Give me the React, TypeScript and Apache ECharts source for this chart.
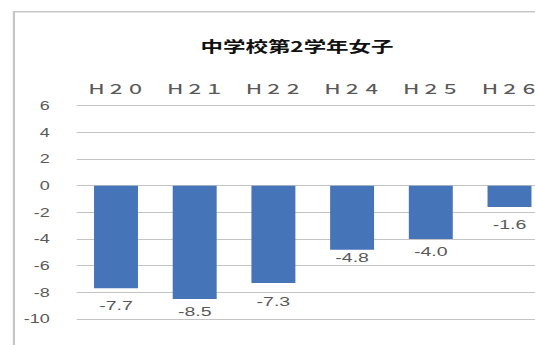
import React, { useEffect, useRef } from "react";
import * as echarts from "echarts";

const chartTitle = "中学校第2学年女子";
const categories = ["Ｈ２０", "Ｈ２１", "Ｈ２２", "Ｈ２４", "Ｈ２５", "Ｈ２６"];
const values = [-7.7, -8.5, -7.3, -4.8, -4.0, -1.6];
const yMin = -10;
const yMax = 6;
const yInterval = 2;
const labelGaps = [11, 6, 12, 1, 6, 11];

const STRETCH = 1.5;
const W = 390;
const H = 345;

export default function App() {
  const ref = useRef<HTMLDivElement>(null);
  useEffect(() => {
    if (!ref.current) return;
    const chart = echarts.init(ref.current, null, { renderer: "svg", width: W, height: H });
    chart.setOption({
      animation: false,
      backgroundColor: "#ffffff",
      grid: { left: 51.1, top: 105.7, width: 314.8, height: 213.3 },
      graphic: [
        {
          type: "polyline",
          shape: { points: [[9.3, 400], [9.3, 11.7], [400, 11.7]] },
          style: { fill: "none", stroke: "#c6c6c6", lineWidth: 1.5 },
          silent: true,
        },
        {
          type: "text",
          x: 198,
          y: 46,
          style: {
            text: chartTitle,
            fill: "#111111",
            font: "bold 15px 'Noto Sans CJK JP'",
            textAlign: "center",
            textVerticalAlign: "middle",
          },
        },
      ],
      xAxis: {
        type: "category",
        position: "top",
        data: categories,
        axisLine: { show: false },
        axisTick: { show: false },
        axisLabel: {
          margin: 11,
          color: "#595959",
          fontSize: 13,
          fontWeight: 500,
          fontFamily: "Noto Sans CJK JP",
        },
      },
      yAxis: {
        type: "value",
        min: yMin,
        max: yMax,
        interval: yInterval,
        axisLine: { show: false },
        axisTick: { show: false },
        splitLine: { lineStyle: { color: "#c4c4c4", width: 1 } },
        axisLabel: {
          margin: 18,
          color: "#595959",
          fontSize: 12,
          fontFamily: "Liberation Sans",
        },
      },
      series: [
        {
          type: "bar",
          barWidth: 29.3,
          data: values.map((v, i) => ({
            value: v,
            label: { distance: labelGaps[i] },
          })),
          itemStyle: { color: "#4574b9" },
          label: {
            show: true,
            position: "bottom",
            color: "#595959",
            fontSize: 13,
            fontFamily: "Liberation Sans",
            formatter: (p: any) => Number(p.value).toFixed(1),
          },
        },
      ],
    });
    return () => chart.dispose();
  }, []);
  return (
    <div
      style={{
        position: "fixed",
        left: 0,
        top: 0,
        width: 535,
        height: 345,
        overflow: "hidden",
        background: "#ffffff",
      }}
    >
      <div
        ref={ref}
        style={{
          width: W,
          height: H,
          transform: `scaleX(${STRETCH})`,
          transformOrigin: "0 0",
        }}
      />
    </div>
  );
}
